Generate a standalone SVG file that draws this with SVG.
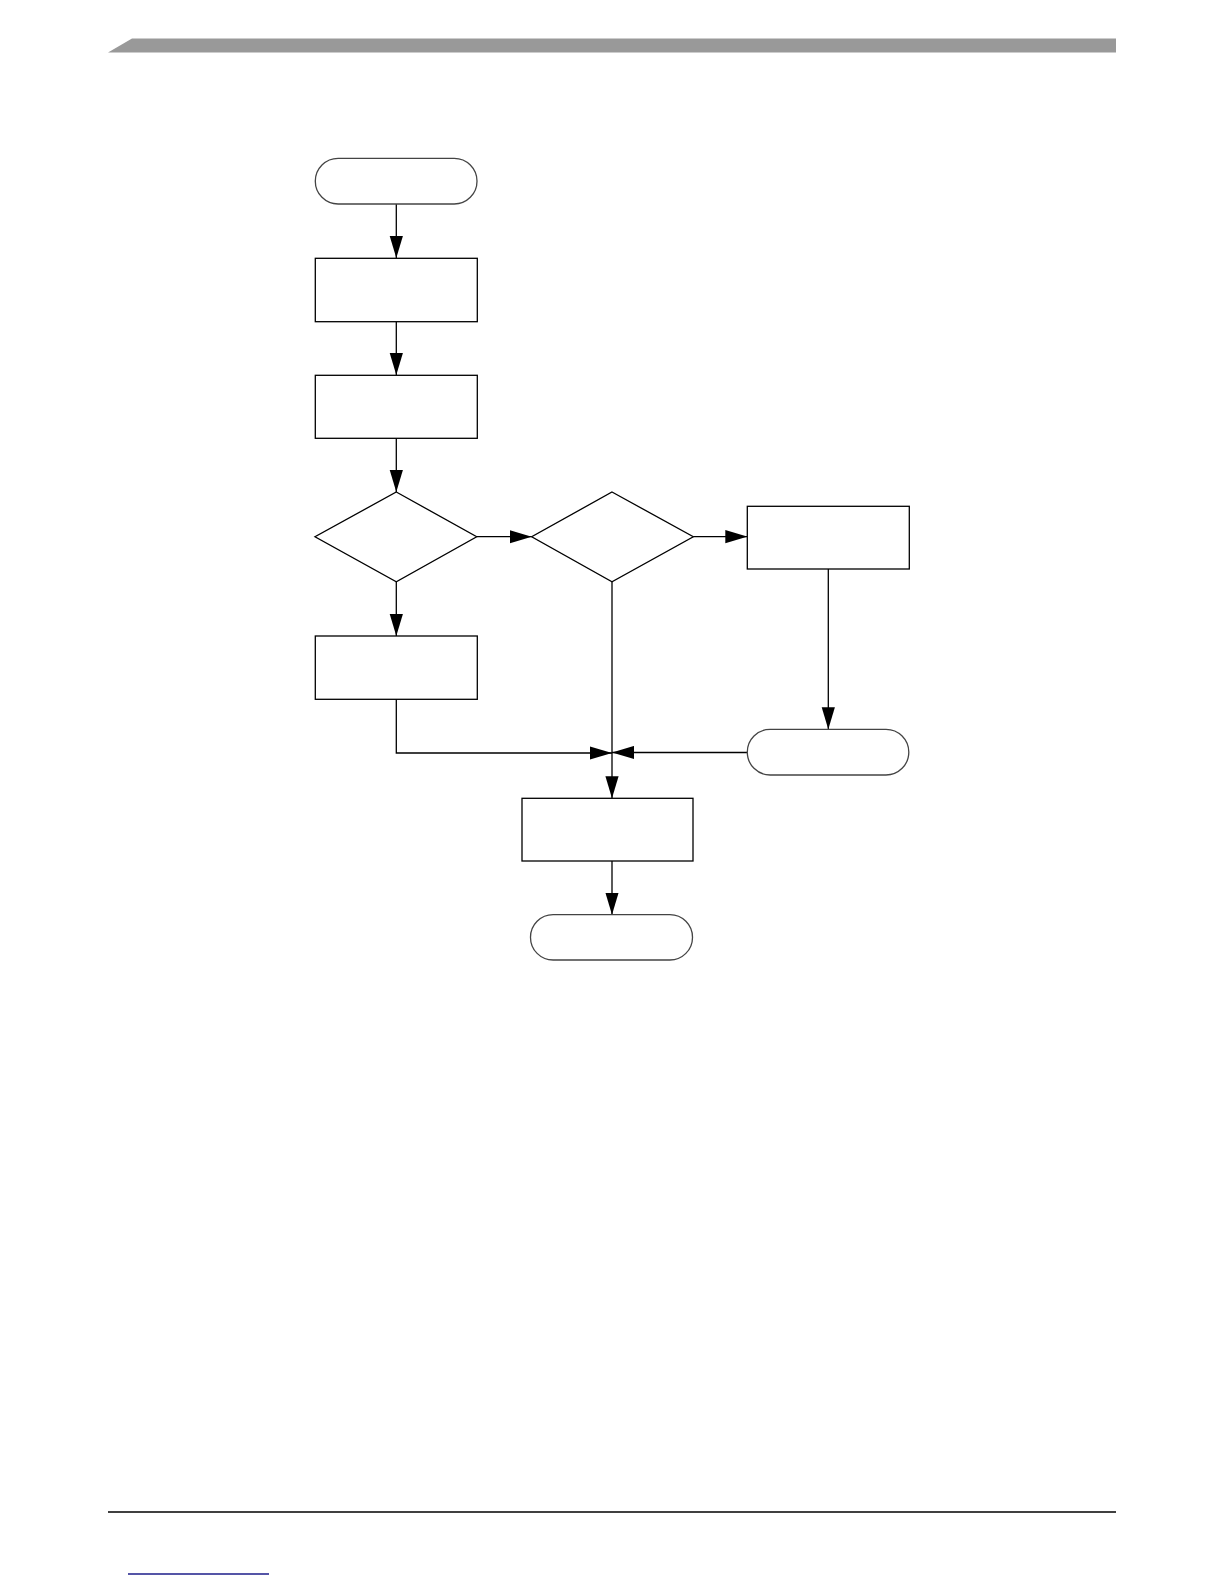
<svg xmlns="http://www.w3.org/2000/svg" width="1224" height="1584" viewBox="0 0 1224 1584">
<style>
.box{fill:#fff;stroke:#000;stroke-width:1.3}
.term{fill:#fff;stroke:#444;stroke-width:1.3}
.con{fill:none;stroke:#000;stroke-width:1.3}
</style>
<defs>
<marker id="ah" markerUnits="userSpaceOnUse" markerWidth="22" markerHeight="14" viewBox="0 0 20 12" refX="20" refY="6" orient="auto">
<path d="M0,0 L20,6 L0,12 Z" fill="#000"/>
</marker>
</defs>
<rect width="1224" height="1584" fill="#fff"/>
<g id="header">
<polygon points="108,52.5 132,38.4 1116,38.4 1116,52.5" fill="#999"/>
</g>
<g id="footer">
<line x1="108" y1="1512" x2="1116" y2="1512" stroke="#000" stroke-width="1.6"/>
<line x1="128" y1="1574" x2="269" y2="1574" stroke="#1c1c8a" stroke-width="1.4"/>
</g>
<g id="connectors">
<line class="con" x1="396.3" y1="204" x2="396.3" y2="258" marker-end="url(#ah)"/>
<line class="con" x1="396.3" y1="321.7" x2="396.3" y2="375" marker-end="url(#ah)"/>
<line class="con" x1="396.3" y1="438.3" x2="396.3" y2="492" marker-end="url(#ah)"/>
<line class="con" x1="476.7" y1="536.7" x2="531.7" y2="536.7" marker-end="url(#ah)"/>
<line class="con" x1="693.3" y1="536.7" x2="747.3" y2="536.7" marker-end="url(#ah)"/>
<line class="con" x1="396.3" y1="581.7" x2="396.3" y2="636" marker-end="url(#ah)"/>
<line class="con" x1="828.3" y1="569" x2="828.3" y2="729.3" marker-end="url(#ah)"/>
<polyline class="con" points="396.3,699.3 396.3,753 612,753" marker-end="url(#ah)"/>
<line class="con" x1="747.3" y1="752.5" x2="612" y2="752.5" marker-end="url(#ah)"/>
<line class="con" x1="612" y1="581.7" x2="612" y2="798.3" marker-end="url(#ah)"/>
<line class="con" x1="612" y1="861" x2="612" y2="914.7" marker-end="url(#ah)"/>
</g>
<g id="start"><rect class="term" x="315.3" y="158.3" width="161.7" height="45.7" rx="22.8" ry="22.8"/></g>
<g id="step1"><rect class="box" x="315.3" y="258.3" width="162" height="63.4"/></g>
<g id="step2"><rect class="box" x="315.3" y="375.3" width="162" height="63"/></g>
<g id="decision1"><polygon class="box" points="396.3,492 476.7,536.7 396.3,581.7 315,536.7"/></g>
<g id="decision2"><polygon class="box" points="612,492 693.3,536.7 612,581.7 531.7,536.7"/></g>
<g id="step3"><rect class="box" x="747.3" y="506.3" width="162" height="62.7"/></g>
<g id="step4"><rect class="box" x="315.3" y="636" width="162" height="63.3"/></g>
<g id="terminal2"><rect class="term" x="747.3" y="729.3" width="161.5" height="45.7" rx="22.8" ry="22.8"/></g>
<g id="step5"><rect class="box" x="522" y="798.3" width="171" height="62.7"/></g>
<g id="end"><rect class="term" x="530.5" y="914.7" width="162" height="45.3" rx="22.6" ry="22.6"/></g>
</svg>
